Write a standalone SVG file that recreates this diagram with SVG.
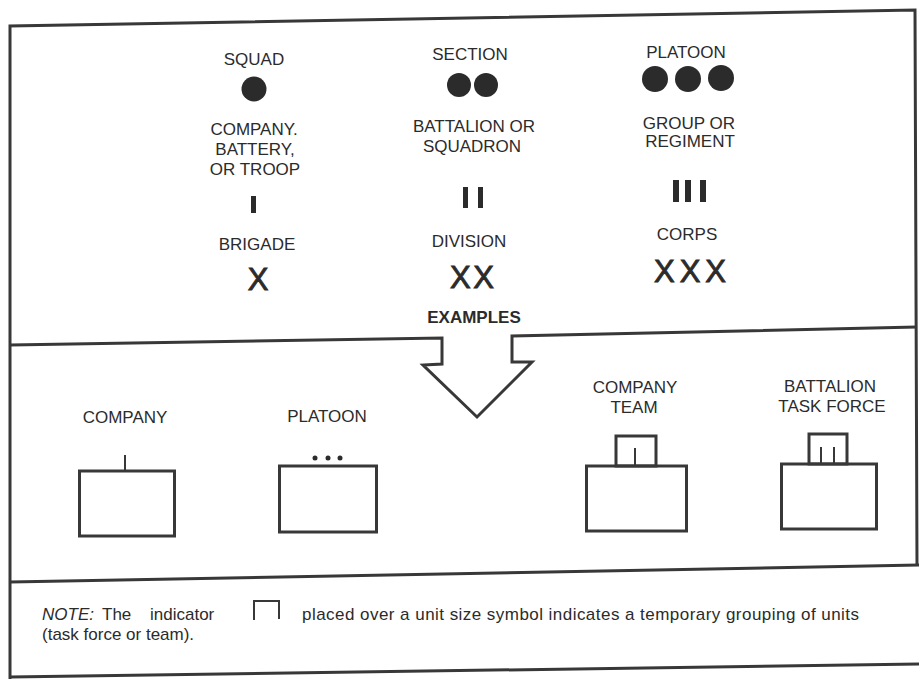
<svg xmlns="http://www.w3.org/2000/svg" width="919" height="679" viewBox="0 0 919 679">
<style>
.frame{fill:none;stroke:#383838;stroke-width:3;stroke-linejoin:miter}
.thin{fill:none;stroke:#383838;stroke-width:2}
.box{fill:none;stroke:#383838;stroke-width:3}
.lbl{font-family:"Liberation Sans",Arial,Helvetica,sans-serif;font-size:17px;fill:#2b2b2b;text-anchor:middle}
.bold{font-weight:bold}
.sym{font-family:"Liberation Sans",Arial,Helvetica,sans-serif;font-size:31px;fill:#2b2b2b;stroke:#2b2b2b;stroke-width:0.9;text-anchor:middle}
.note{font-family:"Liberation Sans",Arial,Helvetica,sans-serif;font-size:17px;fill:#2b2b2b}
.ink{fill:#2b2b2b}
</style>
<rect width="919" height="679" fill="#ffffff"/>
<g id="frame">
<path class="frame" d="M10,679 L10,26 L915,10 L917,566"/>
<path class="frame" d="M10,345 L442,338 L442,364 L423,365 L477,417 L532,362 L512,362 L512,336 L917,327"/>
<path class="frame" d="M10,582 L919,565"/>
<path class="frame" d="M10,677 L919,664"/>
</g>
<g id="squad"><text class="lbl" x="254" y="65">SQUAD</text><circle class="ink" cx="254" cy="89" r="12.5"/></g>
<g id="section"><text class="lbl" x="470" y="60">SECTION</text><circle class="ink" cx="459" cy="85" r="12"/><circle class="ink" cx="486" cy="85" r="12"/></g>
<g id="platoon"><text class="lbl" x="686" y="58">PLATOON</text><circle class="ink" cx="655" cy="79" r="13"/><circle class="ink" cx="688" cy="79" r="13"/><circle class="ink" cx="721" cy="78" r="13"/></g>
<g id="company"><text class="lbl" x="254" y="135">COMPANY.</text><text class="lbl" x="255" y="155">BATTERY,</text><text class="lbl" x="255" y="175">OR TROOP</text><rect class="ink" x="251" y="196" width="5" height="17"/></g>
<g id="battalion"><text class="lbl" x="474" y="132">BATTALION OR</text><text class="lbl" x="472" y="152">SQUADRON</text><rect class="ink" x="463" y="187" width="5" height="21"/><rect class="ink" x="478" y="187" width="5" height="21"/></g>
<g id="regiment"><text class="lbl" x="689" y="129">GROUP OR</text><text class="lbl" x="690" y="147">REGIMENT</text><rect class="ink" x="673" y="180" width="6" height="22"/><rect class="ink" x="685" y="180" width="6" height="22"/><rect class="ink" x="700" y="180" width="6" height="22"/></g>
<g id="brigade"><text class="lbl" x="257" y="250">BRIGADE</text><text class="sym" x="258" y="290">X</text></g>
<g id="division"><text class="lbl" x="469" y="247">DIVISION</text><text class="sym" x="472" y="288" textLength="44">XX</text></g>
<g id="corps"><text class="lbl" x="687" y="240">CORPS</text><text class="sym" x="690" y="282" textLength="72">XXX</text></g>
<g id="examples"><text class="lbl bold" x="474" y="323">EXAMPLES</text></g>
<g id="ex-company"><text class="lbl" x="125" y="423">COMPANY</text><rect class="box" x="79.5" y="471" width="95" height="65"/><line class="thin" x1="125" y1="455" x2="125" y2="471"/></g>
<g id="ex-platoon"><text class="lbl" x="327" y="422">PLATOON</text><rect class="box" x="279.5" y="466" width="97" height="66"/><circle class="ink" cx="315" cy="458" r="2.5"/><circle class="ink" cx="328" cy="458" r="2.5"/><circle class="ink" cx="340" cy="458" r="2.5"/></g>
<g id="ex-company-team"><text class="lbl" x="635" y="393">COMPANY</text><text class="lbl" x="634" y="413">TEAM</text><rect class="box" x="586.5" y="466" width="100" height="65"/><rect class="box" x="616" y="436" width="40" height="30"/><line class="thin" x1="635" y1="448" x2="635" y2="466"/></g>
<g id="ex-battalion-tf"><text class="lbl" x="830" y="392">BATTALION</text><text class="lbl" x="832" y="412">TASK FORCE</text><rect class="box" x="781.5" y="464" width="95" height="65"/><rect class="box" x="809" y="434" width="38" height="30"/><line class="thin" x1="821" y1="447" x2="821" y2="464"/><line class="thin" x1="834" y1="447" x2="834" y2="464"/></g>
<g id="note">
<text class="note" x="42" y="620"><tspan font-style="italic">NOTE:</tspan></text>
<text class="note" x="102" y="620">The</text>
<text class="note" x="150" y="620">indicator</text>
<path class="thin" d="M254,620 L254,601 L279,601 L279,619"/>
<text class="note" x="302" y="620" textLength="557">placed over a unit size symbol indicates a temporary grouping of units</text>
<text class="note" x="42" y="640">(task force or team).</text>
</g>
</svg>
